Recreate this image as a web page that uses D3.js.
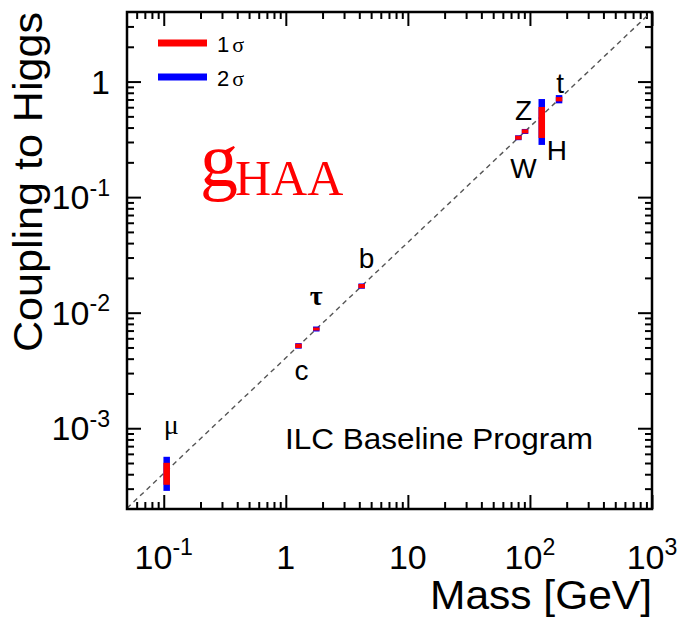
<!DOCTYPE html>
<html>
<head>
<meta charset="utf-8">
<script src="https://cdn.jsdelivr.net/npm/d3@7"></script>
<style>
  body { margin: 0; background: #fff; }
  text { font-family: "Liberation Sans", Arial, sans-serif; fill: #000; }
</style>
</head>
<body>
<svg id="chart" width="681" height="618"></svg>
<script>
// particle data
const particles = ['μ', 'c', 'τ', 'b', 'W', 'Z', 'H', 't'];
const mass = [0.1057, 1.27, 1.777, 4.18, 80.4, 91.19, 125, 173.2];
const sig1Lo = [3.24e-4, 4.94e-3, 7.01e-3, 0.0163, 0.314, 0.356, 0.325, 0.674];
const sig1Hi = [5.02e-4, 5.39e-3, 7.44e-3, 0.0177, 0.340, 0.386, 0.603, 0.734];
const sig2Lo = [2.87e-4, 4.88e-3, 6.87e-3, 0.0161, 0.311, 0.352, 0.283, 0.648];
const sig2Hi = [5.66e-4, 5.45e-3, 7.59e-3, 0.0179, 0.343, 0.389, 0.706, 0.764];
const vev = 246.2; // coupling = mass / v

// axes
const xDomain = [0.05, 1000];
const yDomain = [2e-4, 4];
const xMajor = [0.1, 1, 10, 100, 1000];
const xTickLabels = [['10', '-1'], ['1', ''], ['10', ''], ['10', '2'], ['10', '3']];
const yMajor = [1e-3, 1e-2, 1e-1, 1];
const yTickLabels = [['10', '-3'], ['10', '-2'], ['10', '-1'], ['1', '']];
const legendLabels = ['1', '2'];

// layout
const margin = { top: 12, right: 29, bottom: 109, left: 127 };
const W = 681, H = 618;
const width = W - margin.left - margin.right,
  height = H - margin.top - margin.bottom;
const red = '#ff0000', blue = '#0000ff';
const boxW = 6.5;
// label offsets from each point (px): [dx, dy to baseline]
const labelOffset = [[4.5, -39], [3, 34], [0, -24], [5, -18], [5, 40], [-1.5, -11], [15, 40], [1, -6]];

const svg = d3.select('#chart');
const g = svg.append('g').attr('transform', `translate(${margin.left},${margin.top})`);

const x = d3.scaleLog().domain(xDomain).range([0, width]);
const y = d3.scaleLog().domain(yDomain).range([height, 0]);

// minor tick positions 2..9 per decade inside the domain
function minors(dom) {
  const out = [];
  for (let e = -5; e <= 4; e++) {
    for (let k = 2; k <= 9; k++) {
      const v = k * Math.pow(10, e);
      if (v > dom[0] * 1.0001 && v < dom[1] * 0.9999) out.push(v);
    }
  }
  return out;
}

function tickAxis(axisFn, scale, vals, size, transform) {
  const a = g.append('g')
    .attr('transform', transform)
    .call(axisFn(scale).tickValues(vals).tickSize(size).tickFormat(''));
  a.select('.domain').remove();
  a.selectAll('line').attr('stroke', '#000').attr('stroke-width', 2);
}

const majorLen = 14, minorLen = 7;
tickAxis(d3.axisTop, x, xMajor, majorLen, `translate(0,${height})`);
tickAxis(d3.axisTop, x, minors(xDomain), minorLen, `translate(0,${height})`);
tickAxis(d3.axisBottom, x, xMajor, majorLen, 'translate(0,0)');
tickAxis(d3.axisBottom, x, minors(xDomain), minorLen, 'translate(0,0)');
tickAxis(d3.axisRight, y, yMajor, majorLen, 'translate(0,0)');
tickAxis(d3.axisRight, y, minors(yDomain), minorLen, 'translate(0,0)');
tickAxis(d3.axisLeft, y, yMajor, majorLen, `translate(${width},0)`);
tickAxis(d3.axisLeft, y, minors(yDomain), minorLen, `translate(${width},0)`);

// diagonal coupling = m / v
g.append('line')
  .attr('x1', x(xDomain[0])).attr('y1', y(xDomain[0] / vev))
  .attr('x2', x(xDomain[1])).attr('y2', y(xDomain[1] / vev))
  .attr('stroke', '#555').attr('stroke-width', 1.4)
  .attr('stroke-dasharray', '5,4');

// 2 sigma boxes then 1 sigma on top
const idx = d3.range(particles.length);
g.selectAll('.s2').data(idx).enter().append('rect')
  .attr('x', (i) => x(mass[i]) - boxW / 2)
  .attr('y', (i) => y(sig2Hi[i]))
  .attr('width', boxW)
  .attr('height', (i) => y(sig2Lo[i]) - y(sig2Hi[i]))
  .attr('fill', blue);
g.selectAll('.s1').data(idx).enter().append('rect')
  .attr('x', (i) => x(mass[i]) - boxW / 2)
  .attr('y', (i) => y(sig1Hi[i]))
  .attr('width', boxW)
  .attr('height', (i) => y(sig1Lo[i]) - y(sig1Hi[i]))
  .attr('fill', red);

// particle labels
g.selectAll('.plab').data(idx).enter().append('text')
  .attr('x', (i) => x(mass[i]) + labelOffset[i][0])
  .attr('y', (i) => y((sig1Lo[i] + sig1Hi[i]) / 2) + labelOffset[i][1])
  .attr('text-anchor', 'middle')
  .style('font-size', '28px')
  .style('font-family', (i) => (particles[i] === 'μ' || particles[i] === 'τ') ? '"Liberation Serif", serif' : null)
  .style('font-weight', (i) => particles[i] === 'τ' ? 'bold' : null)
  .text((i) => particles[i]);

// frame
g.append('rect')
  .attr('width', width).attr('height', height)
  .attr('fill', 'none').attr('stroke', '#000').attr('stroke-width', 2.5);

// tick labels with superscripts
function supLabel(sel, base, sup, size) {
  sel.append('tspan').text(base);
  if (sup) sel.append('tspan').attr('dy', -size * 0.4).style('font-size', (size * 0.68) + 'px').text(sup);
}
xMajor.forEach((v, i) => {
  const t = g.append('text')
    .attr('x', x(v)).attr('y', height + 60)
    .attr('text-anchor', 'middle')
    .style('font-size', '34px');
  supLabel(t, xTickLabels[i][0], xTickLabels[i][1], 34);
});
yMajor.forEach((v, i) => {
  const t = g.append('text')
    .attr('x', -17).attr('y', y(v) + 12)
    .attr('text-anchor', 'end')
    .style('font-size', '34px');
  supLabel(t, yTickLabels[i][0], yTickLabels[i][1], 34);
});

// axis titles
svg.append('text')
  .attr('x', 430).attr('y', 609)
  .attr('textLength', 222).attr('lengthAdjust', 'spacingAndGlyphs')
  .style('font-size', '40px')
  .text('Mass [GeV]');
svg.append('text')
  .attr('transform', `translate(42,352) rotate(-90)`)
  .attr('textLength', 340).attr('lengthAdjust', 'spacingAndGlyphs')
  .style('font-size', '40px')
  .text('Coupling to Higgs');

// legend
[red, blue].forEach((c, i) => {
  svg.append('line')
    .attr('x1', 158).attr('x2', 207)
    .attr('y1', 43 + i * 34).attr('y2', 43 + i * 34)
    .attr('stroke', c).attr('stroke-width', 7);
  const t = svg.append('text')
    .attr('x', 217).attr('y', 52 + i * 34)
    .style('font-size', '22px');
  t.append('tspan').text(legendLabels[i]);
  t.append('tspan').attr('dx', 3).style('font-family', '"Liberation Serif", serif').text('σ');
});

// g_HAA label
const gl = svg.append('text')
  .attr('x', 200).attr('y', 186)
  .style('font-family', '"Liberation Serif", serif')
  .style('fill', red);
gl.append('tspan').style('font-size', '76px').text('g');
gl.append('tspan').attr('dy', 9).attr('dx', -3).style('font-size', '50px').text('HAA');

// program label
svg.append('text')
  .attr('x', 285).attr('y', 449)
  .attr('textLength', 308).attr('lengthAdjust', 'spacingAndGlyphs')
  .style('font-size', '30px')
  .text('ILC Baseline Program');
</script>
</body>
</html>
